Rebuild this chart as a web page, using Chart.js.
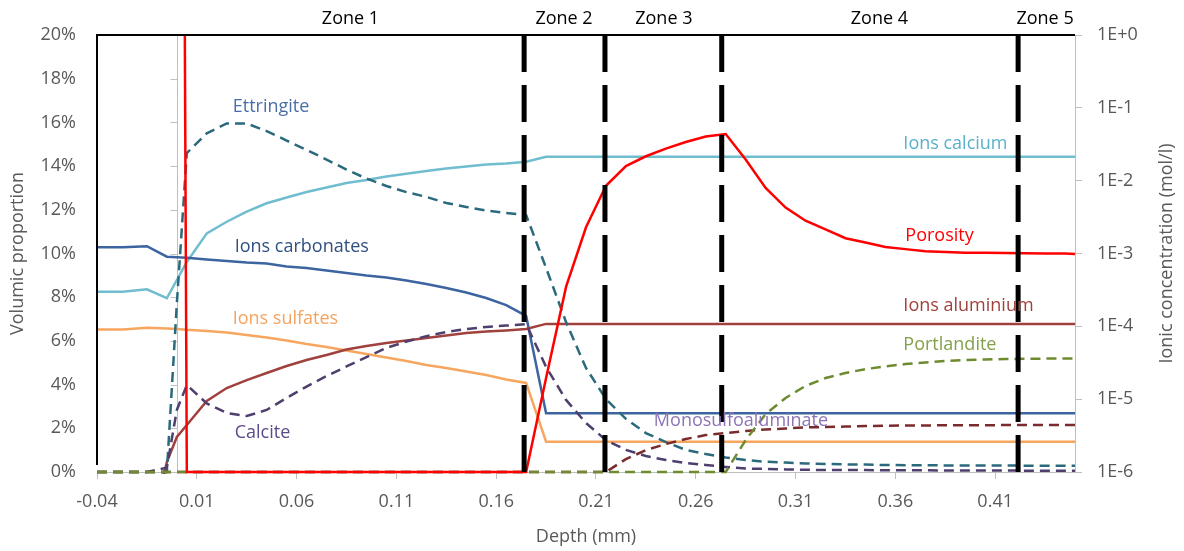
<!DOCTYPE html>
<html>
<head>
<meta charset="utf-8">
<title>Depth profile</title>
<script src="https://cdn.jsdelivr.net/npm/chart.js"></script>
<style>
  body { margin: 0; background: #fff; }
  canvas { display: block; }
</style>
</head>
<body>
<canvas id="profileChart" width="1184" height="551"></canvas>
<script>
// depth grid (mm)
var depth = [-0.04, -0.027, -0.015, -0.005, 0, 0.005, 0.015, 0.025, 0.035, 0.045,
  0.055, 0.065, 0.075, 0.085, 0.095, 0.105, 0.115, 0.125, 0.135, 0.145,
  0.155, 0.165, 0.175, 0.185, 0.195, 0.205, 0.215, 0.225, 0.235, 0.245,
  0.255, 0.265, 0.275, 0.285, 0.295, 0.305, 0.315, 0.325, 0.335, 0.345,
  0.355, 0.365, 0.375, 0.385, 0.395, 0.405, 0.415, 0.425, 0.435, 0.445, 0.45];

// volumic proportions (%)
var porosity = [100, 100, 100, 100, 100, 0, 0, 0, 0, 0,
  0, 0, 0, 0, 0, 0, 0, 0, 0, 0,
  0, 0, 0, 4.3, 8.47, 11.2, 13.1, 14.0, 14.45, 14.8,
  15.1, 15.35, 15.47, 14.3, 13.0, 12.1, 11.5, 11.1, 10.7, 10.5,
  10.3, 10.2, 10.1, 10.07, 10.04, 10.03, 10.02, 10.01, 10.0, 10.0, 9.98];
var ettringite = [0, 0, 0, 0, 7.7, 14.6, 15.5, 15.95, 15.95, 15.6,
  15.17, 14.74, 14.3, 13.84, 13.43, 13.09, 12.81, 12.59, 12.31, 12.13,
  11.97, 11.85, 11.76, 9.34, 6.86, 4.76, 3.34, 2.43, 1.78, 1.37,
  1.01, 0.82, 0.66, 0.55, 0.47, 0.43, 0.39, 0.37, 0.35, 0.34,
  0.32, 0.31, 0.31, 0.30, 0.30, 0.30, 0.30, 0.29, 0.29, 0.29, 0.29];
var calcite = [0, 0, 0, 0.2, 2.84, 3.98, 3.14, 2.70, 2.56, 2.84,
  3.39, 3.91, 4.39, 4.83, 5.26, 5.68, 5.97, 6.22, 6.41, 6.54,
  6.64, 6.70, 6.77, 4.81, 3.30, 2.24, 1.46, 1.01, 0.73, 0.55,
  0.41, 0.32, 0.23, 0.16, 0.14, 0.12, 0.10, 0.09, 0.09, 0.09,
  0.08, 0.08, 0.08, 0.07, 0.07, 0.07, 0.07, 0.06, 0.06, 0.06, 0.06];
var monosulfo = [0, 0, 0, 0, 0, 0, 0, 0, 0, 0,
  0, 0, 0, 0, 0, 0, 0, 0, 0, 0,
  0, 0, 0, 0, 0, 0, 0, 0.59, 1.0, 1.28,
  1.51, 1.69, 1.78, 1.88, 1.95, 1.99, 2.04, 2.06, 2.08, 2.10,
  2.12, 2.13, 2.13, 2.14, 2.14, 2.14, 2.15, 2.15, 2.15, 2.15, 2.15];
var portlandite = [0, 0, 0, 0, 0, 0, 0, 0, 0, 0,
  0, 0, 0, 0, 0, 0, 0, 0, 0, 0,
  0, 0, 0, 0, 0, 0, 0, 0, 0, 0,
  0, 0, 0, 1.46, 2.65, 3.39, 3.94, 4.30, 4.53, 4.71,
  4.83, 4.94, 5.01, 5.08, 5.13, 5.15, 5.17, 5.18, 5.19, 5.20, 5.20];

// ionic concentrations (mol/l)
var calcium = [2.99e-4, 2.99e-4, 3.23e-4, 2.43e-4, 4.33e-4, 7.64e-4, 1.89e-3, 2.73e-3, 3.75e-3, 4.89e-3,
  5.87e-3, 7.0e-3, 8.06e-3, 9.29e-3, 1.02e-2, 1.14e-2, 1.24e-2, 1.36e-2, 1.47e-2, 1.57e-2,
  1.67e-2, 1.72e-2, 1.82e-2, 2.13e-2, 2.13e-2, 2.13e-2, 2.13e-2, 2.13e-2, 2.13e-2, 2.13e-2,
  2.13e-2, 2.13e-2, 2.13e-2, 2.13e-2, 2.13e-2, 2.13e-2, 2.13e-2, 2.13e-2, 2.13e-2, 2.13e-2,
  2.13e-2, 2.13e-2, 2.13e-2, 2.13e-2, 2.13e-2, 2.13e-2, 2.13e-2, 2.13e-2, 2.13e-2, 2.13e-2, 2.13e-2];
var carbonates = [1.22e-3, 1.22e-3, 1.26e-3, 9.04e-4, 8.9e-4, 8.75e-4, 8.27e-4, 7.89e-4, 7.53e-4, 7.30e-4,
  6.64e-4, 6.33e-4, 5.85e-4, 5.40e-4, 4.99e-4, 4.69e-4, 4.26e-4, 3.81e-4, 3.36e-4, 2.92e-4,
  2.45e-4, 1.96e-4, 1.39e-4, 6.4e-6, 6.4e-6, 6.4e-6, 6.4e-6, 6.4e-6, 6.4e-6, 6.4e-6,
  6.4e-6, 6.4e-6, 6.4e-6, 6.4e-6, 6.4e-6, 6.4e-6, 6.4e-6, 6.4e-6, 6.4e-6, 6.4e-6,
  6.4e-6, 6.4e-6, 6.4e-6, 6.4e-6, 6.4e-6, 6.4e-6, 6.4e-6, 6.4e-6, 6.4e-6, 6.4e-6, 6.4e-6];
var sulfates = [9.06e-5, 9.06e-5, 9.57e-5, 9.33e-5, 9.18e-5, 8.95e-5, 8.65e-5, 8.22e-5, 7.60e-5, 7.03e-5,
  6.40e-5, 5.72e-5, 5.20e-5, 4.66e-5, 4.17e-5, 3.73e-5, 3.34e-5, 2.94e-5, 2.68e-5, 2.40e-5,
  2.15e-5, 1.86e-5, 1.67e-5, 2.61e-6, 2.61e-6, 2.61e-6, 2.61e-6, 2.61e-6, 2.61e-6, 2.61e-6,
  2.61e-6, 2.61e-6, 2.61e-6, 2.61e-6, 2.61e-6, 2.61e-6, 2.61e-6, 2.61e-6, 2.61e-6, 2.61e-6,
  2.61e-6, 2.61e-6, 2.61e-6, 2.61e-6, 2.61e-6, 2.61e-6, 2.61e-6, 2.61e-6, 2.61e-6, 2.61e-6, 2.61e-6];
var aluminium = [1e-7, 1e-7, 1e-7, 1.37e-6, 3.03e-6, 4.42e-6, 9.44e-6, 1.42e-5, 1.83e-5, 2.29e-5,
  2.85e-5, 3.45e-5, 4.04e-5, 4.81e-5, 5.37e-5, 5.90e-5, 6.40e-5, 6.92e-5, 7.48e-5, 8.10e-5,
  8.49e-5, 8.77e-5, 9.18e-5, 1.08e-4, 1.08e-4, 1.08e-4, 1.08e-4, 1.08e-4, 1.08e-4, 1.08e-4,
  1.08e-4, 1.08e-4, 1.08e-4, 1.08e-4, 1.08e-4, 1.08e-4, 1.08e-4, 1.08e-4, 1.08e-4, 1.08e-4,
  1.08e-4, 1.08e-4, 1.08e-4, 1.08e-4, 1.08e-4, 1.08e-4, 1.08e-4, 1.08e-4, 1.08e-4, 1.08e-4, 1.08e-4];

// zones
var zoneBounds = [0.174, 0.2145, 0.273, 0.4215];
var zoneNames = ['Zone 1', 'Zone 2', 'Zone 3', 'Zone 4', 'Zone 5'];
var zoneCenters = [0.087, 0.194, 0.244, 0.352, 0.435];

// axis ticks
var depthTicks = [-0.04, 0.01, 0.06, 0.11, 0.16, 0.21, 0.26, 0.31, 0.36, 0.41];
var pctTicks = [0, 2, 4, 6, 8, 10, 12, 14, 16, 18, 20];
var concTicks = [1e-6, 1e-5, 1e-4, 1e-3, 1e-2, 1e-1, 1];
var concTickLabels = ['1E-6', '1E-5', '1E-4', '1E-3', '1E-2', '1E-1', '1E+0'];

// text labels placed in data units
var seriesLabels = [
  { text: 'Ettringite', x: 0.028, y: 16.7, color: '#4a6fa8' },
  { text: 'Ions calcium', x: 0.364, y: 15.0, color: '#5ab0c9' },
  { text: 'Ions carbonates', x: 0.029, y: 10.3, color: '#2f5080' },
  { text: 'Porosity', x: 0.365, y: 10.8, color: '#ff0000' },
  { text: 'Ions sulfates', x: 0.028, y: 7.0, color: '#f4a460' },
  { text: 'Ions aluminium', x: 0.364, y: 7.6, color: '#a0413d' },
  { text: 'Portlandite', x: 0.364, y: 5.8, color: '#84a04a' },
  { text: 'Monosulfoaluminate', x: 0.239, y: 2.35, color: '#8e74b5' },
  { text: 'Calcite', x: 0.029, y: 1.8, color: '#5e4a8a' }
];

Chart.defaults.font.family = "'Open Sans', sans-serif";
Chart.defaults.font.size = 18;
Chart.defaults.color = '#595959';

function series(values, axis, color, dash, order) {
  return {
    data: depth.map(function(d, i) { return { x: d, y: values[i] }; }),
    yAxisID: axis,
    borderColor: color,
    borderWidth: 2.5,
    borderDash: dash || [],
    pointRadius: 0,
    showLine: true,
    fill: false,
    clip: { left: 0, top: 0, right: 0, bottom: 2 },
    order: order
  };
}

var datasets = [];
zoneBounds.forEach(function(b) {
  datasets.push({
    data: [{ x: b, y: 20 }, { x: b, y: 0 }],
    yAxisID: 'y',
    borderColor: '#000',
    borderWidth: 5,
    borderDash: [37, 13],
    pointRadius: 0,
    showLine: true,
    order: 0
  });
});
datasets.push(series(porosity, 'y', '#ff0000', null, 1));
datasets.push(series(portlandite, 'y', '#6e8b30', [10, 6], 2));
datasets.push(series(monosulfo, 'y', '#7a2c2c', [10, 6], 3));
datasets.push(series(calcite, 'y', '#4e3f6e', [10, 6], 4));
datasets.push(series(ettringite, 'y', '#2b6a7c', [10, 6], 5));
datasets.push(series(aluminium, 'y2', '#a0413d', null, 6));
datasets.push(series(sulfates, 'y2', '#f7a65f', null, 7));
datasets.push(series(carbonates, 'y2', '#3c64a0', null, 8));
datasets.push(series(calcium, 'y2', '#70bdd0', null, 9));

var decor = {
  id: 'decor',
  beforeDatasetsDraw: function(chart) {
    var ctx = chart.ctx, a = chart.chartArea, x = chart.scales.x, y = chart.scales.y;
    var x0 = Math.round(x.getPixelForValue(0)) + 0.5;
    ctx.save();
    ctx.strokeStyle = '#bfbfbf';
    ctx.lineWidth = 1;
    ctx.beginPath();
    ctx.moveTo(x0, a.top);
    ctx.lineTo(x0, a.bottom);
    pctTicks.forEach(function(v) {
      var py = Math.round(y.getPixelForValue(v)) + 0.5;
      ctx.moveTo(x0 - 7, py);
      ctx.lineTo(x0, py);
    });
    ctx.stroke();
    ctx.restore();
  },
  afterDatasetsDraw: function(chart) {
    var ctx = chart.ctx, a = chart.chartArea, x = chart.scales.x, y = chart.scales.y;
    ctx.save();
    // black frame on top and left
    ctx.strokeStyle = '#000';
    ctx.lineWidth = 2;
    ctx.beginPath();
    ctx.moveTo(a.left, a.bottom - 7);
    ctx.lineTo(a.left, a.top);
    ctx.lineTo(a.right, a.top);
    ctx.stroke();

    ctx.font = "18px 'Open Sans', sans-serif";
    ctx.textBaseline = 'middle';

    // zone names
    ctx.fillStyle = '#000';
    ctx.textAlign = 'center';
    zoneNames.forEach(function(n, i) {
      ctx.fillText(n, x.getPixelForValue(zoneCenters[i]), a.top - 16);
    });

    // curve labels
    ctx.textAlign = 'left';
    seriesLabels.forEach(function(l) {
      ctx.fillStyle = l.color;
      ctx.fillText(l.text, x.getPixelForValue(l.x), y.getPixelForValue(l.y));
    });

    // right axis title, reading upward
    ctx.fillStyle = '#595959';
    ctx.textAlign = 'center';
    ctx.translate(chart.width - 17, (a.top + a.bottom) / 2);
    ctx.rotate(-Math.PI / 2);
    ctx.fillText('Ionic concentration (mol/l)', 0, 0);
    ctx.restore();
  }
};

var ctx = document.getElementById('profileChart').getContext('2d');
var profileChart = new Chart(ctx, {
  type: 'scatter',
  data: { datasets: datasets },
  plugins: [decor],
  options: {
    responsive: false,
    animation: false,
    layout: { padding: { top: 35, left: 0, right: 0, bottom: 0 } },
    plugins: { legend: { display: false }, tooltip: { enabled: false } },
    scales: {
      x: {
        type: 'linear',
        min: -0.04,
        max: 0.45,
        afterBuildTicks: function(s) { s.ticks = depthTicks.map(function(v) { return { value: v }; }); },
        afterFit: function(s) { s.height = 79; },
        ticks: {
          autoSkip: false,
          maxRotation: 0,
          padding: 12,
          callback: function(v) { return v.toFixed(2); }
        },
        grid: { drawOnChartArea: false, tickLength: 7, color: '#bfbfbf' },
        border: { color: '#bfbfbf' },
        title: { display: true, text: 'Depth (mm)', padding: { top: 0, bottom: 3 } }
      },
      y: {
        position: 'left',
        min: 0,
        max: 20,
        afterBuildTicks: function(s) { s.ticks = pctTicks.map(function(v) { return { value: v }; }); },
        afterFit: function(s) { s.width = 97; },
        ticks: { autoSkip: false, padding: 21, callback: function(v) { return v + '%'; } },
        grid: { display: false, drawTicks: false },
        border: { display: false },
        title: { display: true, text: 'Volumic proportion', padding: { top: 7, bottom: 0 } }
      },
      y2: {
        type: 'logarithmic',
        position: 'right',
        min: 1e-6,
        max: 1,
        afterBuildTicks: function(s) { s.ticks = concTicks.map(function(v) { return { value: v }; }); },
        afterFit: function(s) { s.width = 109; },
        ticks: { autoSkip: false, padding: 15, callback: function(v, i) { return concTickLabels[i]; } },
        grid: { drawOnChartArea: false, tickLength: 7, color: '#bfbfbf' },
        border: { color: '#bfbfbf' }
      }
    }
  }
});
</script>
</body>
</html>
